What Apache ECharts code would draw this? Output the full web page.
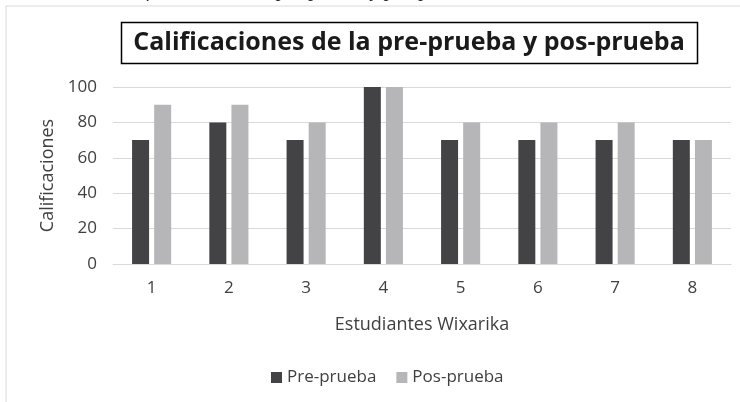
<!DOCTYPE html>
<html>
<head>
<meta charset="utf-8">
<script src="https://cdn.jsdelivr.net/npm/echarts@6/dist/echarts.min.js"></script>
<style>
  html, body { margin: 0; padding: 0; background: #fff; }
  #chart { width: 740px; height: 402px; }
</style>
</head>
<body>
<div id="chart"></div>
<script>
// datos
var estudiantes = ["1", "2", "3", "4", "5", "6", "7", "8"];
var prePrueba = [70, 80, 70, 100, 70, 70, 70, 70];
var posPrueba = [90, 90, 80, 100, 80, 80, 80, 70];
var ticksY = [0, 20, 40, 60, 80, 100];

var fuente = "Open Sans";
var colorTexto = "#404040";

var myChart = echarts.init(document.getElementById("chart"));
var option = {
  animation: false,
  textStyle: { fontFamily: fuente },
  graphic: [
    {
      // borde del area del grafico
      type: "rect",
      shape: { x: 6, y: 6, width: 760, height: 420 },
      style: { fill: "none", stroke: "#d9d9d9", lineWidth: 1 },
      silent: true
    },
    {
      // texto cortado arriba (solo se ven los descendentes)
      type: "text",
      left: 112,
      top: -19,
      style: {
        text: "Calificaciones de la pre-prueba y pos-prueba",
        font: "italic 20px 'Liberation Serif'",
        fill: "#222"
      },
      silent: true
    },
    {
      type: "rect",
      shape: { x: 121.5, y: 22.5, width: 576, height: 41 },
      style: { fill: "#fff", stroke: "#000", lineWidth: 1.5 },
      silent: true
    },
    {
      type: "text",
      x: 409,
      y: 43,
      style: {
        text: "Calificaciones de la pre-prueba y pos-prueba",
        font: "bold 25px 'Open Sans'",
        fill: "#1a1a1a",
        textAlign: "center",
        textVerticalAlign: "middle"
      },
      silent: true
    }
  ],
  grid: { left: 113, right: 9, top: 87, bottom: 138 },
  legend: {
    bottom: 11,
    left: 266,
    itemWidth: 11,
    itemHeight: 11,
    itemGap: 20,
    icon: "rect",
    textStyle: { color: colorTexto, fontSize: 17, fontFamily: fuente },
    data: ["Pre-prueba", "Pos-prueba"]
  },
  xAxis: {
    type: "category",
    data: estudiantes,
    name: "Estudiantes Wixarika",
    nameLocation: "middle",
    nameGap: 52,
    nameTextStyle: { color: colorTexto, fontSize: 18 },
    axisLine: { lineStyle: { color: "#d9d9d9", width: 1 } },
    axisTick: { show: false },
    axisLabel: { color: colorTexto, fontSize: 17, margin: 16 }
  },
  yAxis: {
    type: "value",
    min: ticksY[0],
    max: ticksY[ticksY.length - 1],
    interval: 20,
    name: "Calificaciones",
    nameLocation: "middle",
    nameGap: 56,
    nameTextStyle: { color: colorTexto, fontSize: 18 },
    axisLine: { show: false },
    axisTick: { show: false },
    axisLabel: { color: colorTexto, fontSize: 17, margin: 16 },
    splitLine: { lineStyle: { color: "#d9d9d9", width: 1 } }
  },
  series: [
    {
      name: "Pre-prueba",
      type: "bar",
      data: prePrueba,
      barWidth: 17,
      barGap: "30%",
      itemStyle: { color: "#434345" }
    },
    {
      name: "Pos-prueba",
      type: "bar",
      data: posPrueba,
      barWidth: 17,
      itemStyle: { color: "#b6b6b9" }
    }
  ]
};
option && myChart.setOption(option);
</script>
</body>
</html>
